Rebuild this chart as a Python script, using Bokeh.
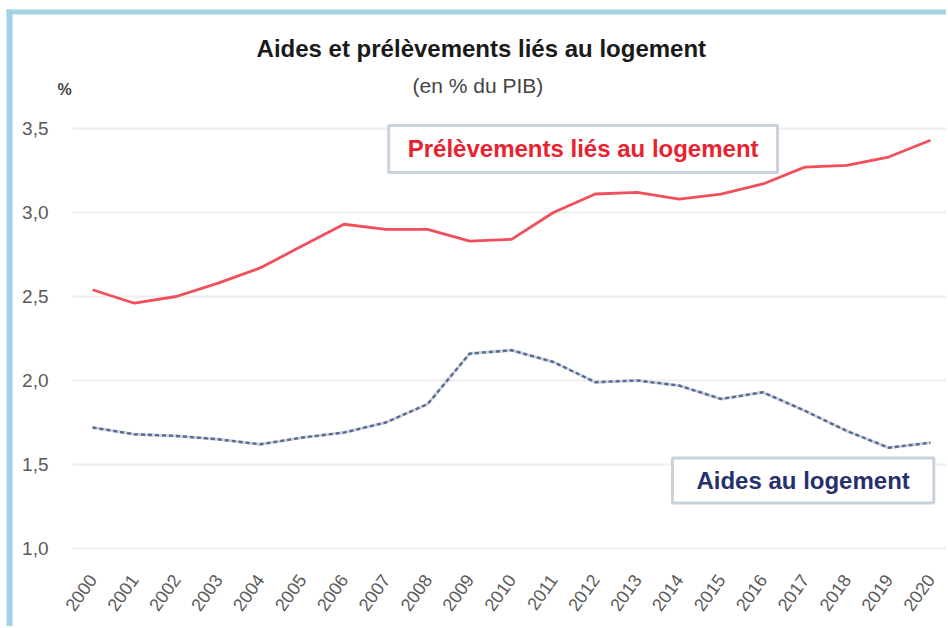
from bokeh.plotting import figure
from bokeh.models import Range1d, Label, BoxAnnotation
from bokeh.core.properties import value
from bokeh.embed import file_html
from bokeh.resources import INLINE

# ---- data ----
years = list(range(2000, 2021))
prelevements = [2.54, 2.46, 2.50, 2.58, 2.67, 2.80, 2.93, 2.90, 2.90, 2.83, 2.84,
                3.00, 3.11, 3.12, 3.08, 3.11, 3.17, 3.27, 3.28, 3.33, 3.43]
aides = [1.72, 1.68, 1.67, 1.65, 1.62, 1.66, 1.69, 1.75, 1.86, 2.16, 2.18,
         2.11, 1.99, 2.00, 1.97, 1.89, 1.93, 1.82, 1.70, 1.60, 1.63]
y_ticks = [1.0, 1.5, 2.0, 2.5, 3.0, 3.5]
y_tick_labels = ["1,0", "1,5", "2,0", "2,5", "3,0", "3,5"]
x_tick_labels = [str(y) for y in years]

title_text = "Aides et prélèvements liés au logement"
subtitle_text = "(en % du PIB)"
unit_text = "%"
label_prel = "Prélèvements liés au logement"
label_aides = "Aides au logement"

FONT = "Liberation Sans"

# ---- layout constants (data-space positions of decorations) ----
X0, X1 = 1997.804, 2020.382
Y0, Y1 = 0.5357, 4.2619
GRID_X0 = 1999.523
YLAB_X = 1998.95
XLAB_Y = 0.835

p = figure(width=946, height=626, output_backend="svg", toolbar_location=None,
           x_range=Range1d(X0, X1), y_range=Range1d(Y0, Y1),
           x_axis_location=None, y_axis_location=None,
           min_border_left=0, min_border_right=0, min_border_top=0, min_border_bottom=0)
p.outline_line_color = None
p.background_fill_color = "white"
p.border_fill_color = "white"
p.xgrid.visible = False
p.ygrid.visible = False

# horizontal gridlines
n = len(y_ticks)
p.segment(x0=[GRID_X0] * n, y0=y_ticks, x1=[X1] * n, y1=y_ticks,
          line_color="#eeeeee", line_width=2)

# y tick labels
p.text(x=[YLAB_X] * n, y=y_ticks, text=y_tick_labels, text_align="right",
       text_baseline="middle", text_font=value(FONT), text_font_size="19px",
       text_color="#5a5a5a")

# x tick labels (rotated)
p.text(x=years, y=[XLAB_Y] * len(years), text=x_tick_labels, angle=0.95,
       text_align="right", text_baseline="middle", text_font=value(FONT),
       text_font_size="18px", text_color="#5a5a5a")

# lines
p.line(years, prelevements, line_color="#f14f5a", line_width=2.8)
p.line(years, aides, line_color="#cbd2de", line_width=3)
p.line(years, aides, line_color="#566b90", line_width=2.4, line_dash="4 3")

# titles
p.text(x=[2009.28], y=[3.976], text=[title_text], text_align="center",
       text_baseline="alphabetic", text_font=value(FONT), text_font_size="24px",
       text_font_style="bold", text_color="#1a1a1a")
p.text(x=[2009.2], y=[3.756], text=[subtitle_text], text_align="center",
       text_baseline="alphabetic", text_font=value(FONT), text_font_size="21px",
       text_color="#444444")
p.text(x=[1999.332], y=[3.732], text=[unit_text], text_align="center",
       text_baseline="alphabetic", text_font=value(FONT), text_font_size="16px",
       text_font_style="bold", text_color="#444444")

# series labels
p.add_layout(Label(x=2011.71, y=3.378, text=label_prel, text_align="center",
                   text_baseline="middle", text_font=FONT, text_font_size="24px",
                   text_font_style="bold", text_color="#e8232f",
                   background_fill_color="white", border_line_color="#c9d1dc",
                   border_line_width=3,
                   padding=dict(left=19, right=19, top=10, bottom=10)))
p.add_layout(Label(x=2016.96, y=1.405, text=label_aides, text_align="center",
                   text_baseline="middle", text_font=FONT, text_font_size="24px",
                   text_font_style="bold", text_color="#25306e",
                   background_fill_color="white", border_line_color="#c9d1dc",
                   border_line_width=3,
                   padding=dict(left=24, right=24, top=9, bottom=9)))

# light blue frame (left and top)
p.add_layout(BoxAnnotation(left=1997.947, right=1998.091, top=4.2083, bottom=Y0,
                           fill_color="#a3d2e2", fill_alpha=1, line_color=None))
p.add_layout(BoxAnnotation(left=1997.947, right=X1, top=4.2083, bottom=4.1786,
                           fill_color="#a3d2e2", fill_alpha=1, line_color=None))

open("out.html", "w").write(file_html(p, INLINE))
